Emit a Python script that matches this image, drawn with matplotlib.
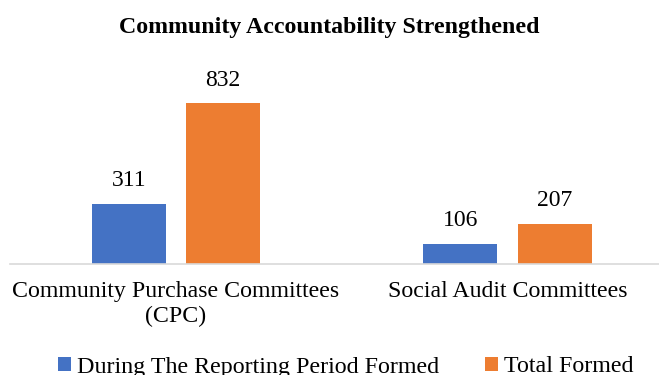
import matplotlib
matplotlib.use("Agg")
import matplotlib.pyplot as plt
import numpy as np

categories = ["Community Purchase Committees\n(CPC)", "Social Audit Committees"]
series_names = ["During The Reporting Period Formed", "Total Formed"]
during_period = [311, 106]
total_formed = [832, 207]

BLUE = "#4472C4"
ORANGE = "#ED7D31"
AXIS = "#D9D9D9"

plt.rcParams["font.family"] = ["Liberation Serif", "DejaVu Serif"]

fig = plt.figure(figsize=(6.59, 3.75), dpi=100)
ax = fig.add_axes([10 / 659, 1 - 264 / 375, 649 / 659, 174 / 375])

x = np.arange(len(categories))
w = 0.223
off = 0.142
b1 = ax.bar(x - off, during_period, width=w, color=BLUE, label=series_names[0])
b2 = ax.bar(x + off, total_formed, width=w, color=ORANGE, label=series_names[1])
for bars in (b1, b2):
    ax.bar_label(bars, padding=9, fontsize=17)

ax.set_xlim(-0.5, 1.457)
ax.set_ylim(0, 900)
ax.set_yticks([])
for s in ("top", "right", "left"):
    ax.spines[s].set_visible(False)
ax.spines["bottom"].set_color(AXIS)
ax.spines["bottom"].set_linewidth(1.2)
ax.set_xticks(x)
ax.set_xticklabels(categories, fontsize=17.2, linespacing=1.25)
ax.tick_params(axis="x", length=0, pad=12)

fig.text(0.5, 1 - 28 / 375, "Community Accountability Strengthened",
         ha="center", va="center", fontsize=17.2, fontweight="bold")

fig.legend(handles=[b1, b2], loc="center", bbox_to_anchor=(0.525, 1 - 367 / 375),
           ncol=2, frameon=False, fontsize=17.3, handlelength=0.55, handleheight=0.55,
           handletextpad=0.25, columnspacing=1.9)

fig.savefig("out.png", dpi=100)
